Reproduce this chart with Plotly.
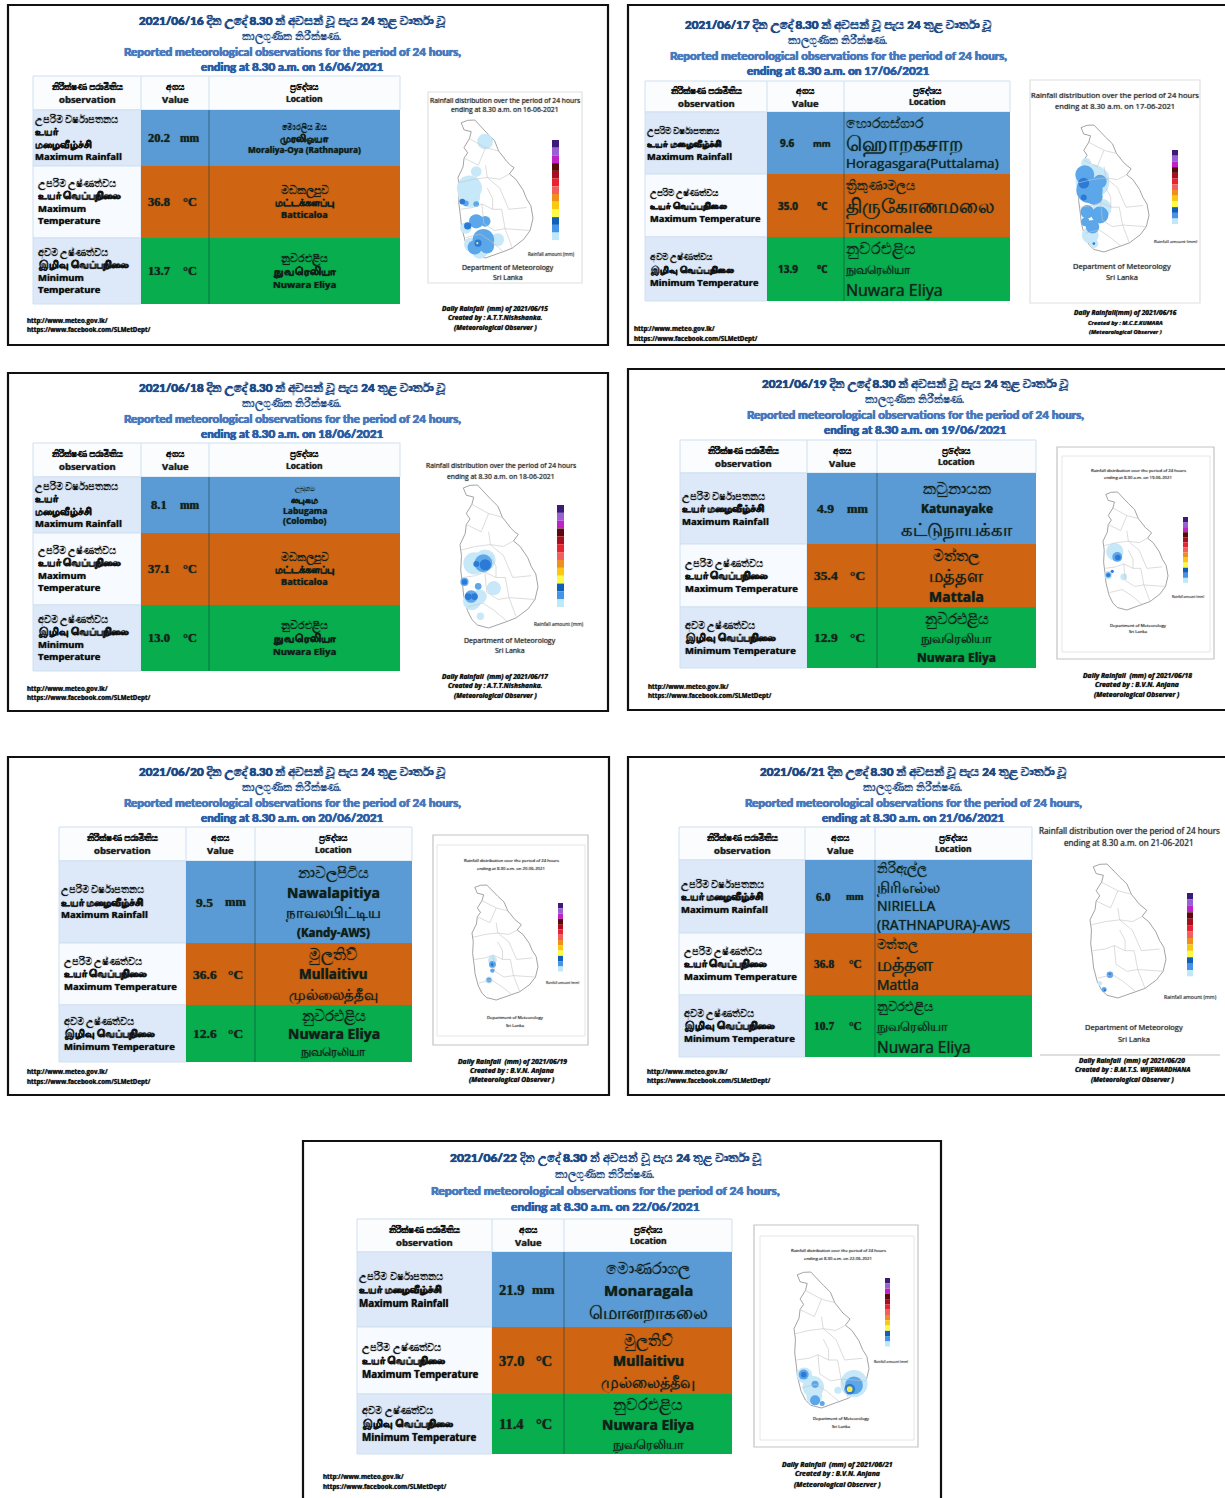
import plotly.graph_objects as go

# ---------- DATA ----------
report_dates = ["16/06/2021", "17/06/2021", "18/06/2021", "19/06/2021", "20/06/2021", "21/06/2021", "22/06/2021"]
title_dates = ["2021/06/16", "2021/06/17", "2021/06/18", "2021/06/19", "2021/06/20", "2021/06/21", "2021/06/22"]
map_dates = ["16-06-2021", "17-06-2021", "18-06-2021", "19-06-2021", "20-06-2021", "21-06-2021", "22-06-2021"]
rain_dates = ["2021/06/15", "2021/06/16", "2021/06/17", "2021/06/18", "2021/06/19", "2021/06/20", "2021/06/21"]
rain_prefix = ["Daily Rainfall  (mm) of ", "Daily Rainfall(mm) of ", "Daily Rainfall  (mm) of ", "Daily Rainfall  (mm) of ",
               "Daily Rainfall  (mm) of ", "Daily Rainfall  (mm) of ", "Daily Rainfall  (mm) of "]
observers = ["A.T.T.Nishshanka.", "M.C.E.KUMARA", "A.T.T.Nishshanka.", "B.V.N. Anjana", "B.V.N. Anjana",
             "B.M.T.S. WIJEWARDHANA", "B.V.N. Anjana"]
max_rain = ["20.2", "9.6", "8.1", "4.9", "9.5", "6.0", "21.9"]
max_temp = ["36.8", "35.0", "37.1", "35.4", "36.6", "36.8", "37.0"]
min_temp = ["13.7", "13.9", "13.0", "12.9", "12.6", "10.7", "11.4"]
units = ["mm", "°C", "°C"]

title_si_a = " දින උදේ <b>8.30</b> න් අවසන් වූ පැය <b>24</b> තුළ වාර්තා වූ"
title_si_b = "කාලගුණික නිරීක්ෂණ."
title_en_a = "Reported meteorological observations for the period of 24 hours,"
title_en_b = "ending at 8.30 a.m. on "
headers = [["නිරීක්ෂණ පරාමිතිය", "observation"], ["අගය", "Value"], ["ප්‍රදේශය", "Location"]]

labels_long = [["උපරිම වර්ෂාපතනය", "உயர்", "மழைவீழ்ச்சி", "Maximum Rainfall"],
               ["උපරිම උෂ්ණත්වය", "உயர் வெப்பநிலை", "Maximum", "Temperature"],
               ["අවම උෂ්ණත්වය", "இழிவு வெப்பநிலை", "Minimum", "Temperature"]]
labels_short = [["උපරිම වර්ෂාපතනය", "உயர் மழைவீழ்ச்சி", "Maximum Rainfall"],
                ["උපරිම උෂ්ණත්වය", "உயர் வெப்பநிலை", "Maximum Temperature"],
                ["අවම උෂ්ණත්වය", "இழிவு வெப்பநிலை", "Minimum Temperature"]]

nuwara_a = ["නුවරඑළිය", "நுவரெலியா", "Nuwara Eliya"]
nuwara_b = ["නුවරඑළිය", "Nuwara Eliya", "நுவரெலியா"]
batti = ["මඩකලපුව", "மட்டக்களப்பு", "Batticaloa"]
mullai = ["මුලතිව්", "Mullaitivu", "முல்லைத்தீவு"]
locations = [
    [["මොරලිය ඔය", "முரலிஓயா", "Moraliya-Oya (Rathnapura)"], batti, nuwara_a],
    [["හොරගස්ගාර", "ஹொறகசாற", "Horagasgara(Puttalama)"], ["ත්‍රිකුණාමලය", "திருகோணமலை", "Trincomalee"], nuwara_a],
    [["ලබුගම", "லபுகம", "Labugama", "(Colombo)"], batti, nuwara_a],
    [["කටුනායක", "Katunayake", "கட்டுநாயக்கா"], ["මත්තල", "மத்தள", "Mattala"], nuwara_a],
    [["නාවලපිටිය", "Nawalapitiya", "நாவலபிட்டிய", "(Kandy-AWS)"], mullai, nuwara_b],
    [["නිරිඇල්ල", "நிரிஎல்ல", "NIRIELLA", "(RATHNAPURA)-AWS"], ["මත්තල", "மத்தள", "Mattla"], nuwara_a],
    [["මොණරාගල", "Monaragala", "மொனறாகலை"], mullai, nuwara_b],
]

map_title_a = "Rainfall distribution over the period of 24 hours"
map_title_b = "ending at 8.30 a.m. on "
dept_lines = ["Department of Meteorology", "Sri Lanka"]
rain_caption = "Rainfall amount (mm)"
url_lines = ["http://www.meteo.gov.lk/", "https://www.facebook.com/SLMetDept/"]

# Sri Lanka coastline (degrees)
coast_lon = [79.87, 80.05, 80.25, 80.45, 80.60, 80.80, 80.92, 81.15, 81.25, 81.35, 81.22, 81.40, 81.60, 81.70, 81.82,
             81.88, 81.80, 81.62, 81.30, 81.05, 80.75, 80.55, 80.25, 80.10, 79.98, 79.88, 79.85, 79.80, 79.82, 79.78,
             79.92, 79.95, 80.05, 79.95, 80.10, 80.15, 79.95, 79.87]
coast_lat = [9.75, 9.82, 9.83, 9.60, 9.45, 9.25, 8.95, 8.65, 8.55, 8.48, 8.30, 8.15, 7.85, 7.60, 7.40,
             7.05, 6.70, 6.45, 6.20, 6.10, 5.98, 5.92, 6.00, 6.15, 6.40, 6.80, 7.10, 7.50, 7.90, 8.20,
             8.50, 8.75, 8.90, 9.05, 9.30, 9.50, 9.55, 9.75]
# district boundaries (degrees)
bound_lon = [[80.10, 80.55, 80.92], [79.95, 80.35, 80.55], [80.55, 80.60, 80.95, 81.22], [79.80, 80.20, 80.60, 80.95],
             [80.95, 81.20, 81.70], [79.85, 80.20, 80.45, 80.75, 81.00], [80.45, 80.50, 80.80, 81.10, 81.80],
             [80.00, 80.40, 80.70, 81.05], [81.00, 81.10, 81.30], [80.60, 80.75, 80.75]]
bound_lat = [[9.30, 9.05, 8.95], [8.75, 8.55, 9.05], [8.55, 8.20, 8.15, 8.30], [8.05, 8.15, 8.20, 7.90],
             [7.90, 7.30, 7.35], [7.30, 7.35, 7.45, 7.30, 7.30], [7.45, 6.90, 6.70, 6.75, 6.70],
             [6.50, 6.60, 6.40, 6.10], [7.30, 6.75, 6.20], [7.90, 7.60, 7.30]]

# rain patches per map: longitude, latitude, radius in degrees, rainfall class 1-4
rain_lon = [
    [80.54, 80.29, 80.10, 80.10, 80.00, 80.89, 80.39, 80.15, 80.00, 80.29, 80.29, 80.54, 80.49, 80.25, 80.59, 79.90, 80.05, 80.34, 80.32],
    [80.02, 80.21, 80.49, 80.49, 80.14, 80.25, 79.98, 80.12, 80.43, 80.26, 80.05, 80.43, 80.21, 80.00, 79.95, 79.95, 80.25],
    [80.17, 80.46, 80.69, 80.10, 80.31, 80.33, 80.41, 79.90, 80.27, 80.08, 80.46, 80.22, 79.90, 80.00, 80.17],
    [80.16, 80.45, 79.95, 80.24, 79.95, 80.26, 80.08, 79.95],
    [80.43, 80.32, 80.43, 80.43, 80.32, 80.44],
    [80.05, 80.33, 80.17, 80.33, 80.19],
    [80.07, 81.46, 80.32, 80.35, 81.01, 80.05, 80.37, 81.46, 80.37, 80.57, 80.05, 81.34, 81.34],
]
rain_lat = [
    [9.22, 8.37, 7.90, 7.66, 6.77, 6.44, 6.12, 6.30, 7.47, 7.45, 6.96, 6.96, 6.44, 6.22, 6.25, 7.52, 6.83, 6.34, 6.34],
    [8.66, 8.09, 8.25, 7.27, 6.44, 6.18, 8.30, 7.83, 8.09, 7.63, 7.16, 7.06, 6.70, 6.85, 8.04, 7.60, 6.18],
    [7.69, 7.78, 7.01, 6.65, 6.78, 6.24, 7.69, 7.18, 7.06, 6.78, 7.65, 7.67, 7.18, 6.78, 6.78],
    [7.85, 7.02, 7.08, 7.68, 7.08, 7.66, 7.20, 7.08],
    [7.28, 6.60, 7.13, 6.92, 6.60, 7.13],
    [6.35, 6.60, 6.17, 6.60, 6.15],
    [6.86, 6.62, 6.53, 6.25, 6.43, 6.88, 6.60, 6.57, 6.14, 6.05, 6.88, 6.46, 6.46],
]
rain_rad = [
    [.22, .15, .35, .30, .16, .18, .22, .20, .08, .08, .20, .15, .30, .20, .20, .08, .10, .10, .03],
    [.15, .50, .20, .28, .25, .13, .28, .39, .20, .25, .20, .25, .20, .13, .16, .09, .04],
    [.30, .28, .19, .24, .19, .10, .24, .11, .09, .17, .15, .08, .07, .09, .09],
    [.28, .11, .13, .16, .09, .09, .05, .06],
    [.14, .11, .11, .07, .08, .06],
    [.06, .09, .07, .04, .03],
    [.22, .38, .30, .22, .10, .14, .10, .25, .14, .07, .08, .15, .08],
]
rain_cls = [
    [1, 1, 1, 1, 1, 1, 1, 1, 2, 2, 2, 2, 2, 2, 2, 3, 3, 3, 4],
    [1, 1, 1, 1, 1, 1, 2, 2, 2, 2, 2, 2, 2, 2, 3, 3, 3],
    [1, 1, 1, 1, 1, 1, 2, 2, 2, 2, 3, 3, 3, 3, 3],
    [1, 1, 1, 2, 2, 3, 3, 3],
    [1, 1, 2, 2, 2, 3],
    [1, 2, 2, 3, 3],
    [1, 1, 1, 1, 1, 2, 2, 2, 2, 2, 3, 3, 4],
]
rain_colors = {1: "#c6e8f8", 2: "#5ca6ea", 3: "#2a7ad6", 4: "#f4ee3a"}
scale_colors = ["#3c1a78", "#9a5fd2", "#bf22c8", "#5a0a0a", "#a80f1e", "#ea2332", "#f2605e", "#ee8f1e",
                "#fbc810", "#fdfb45", "#1060b8", "#4394ea", "#bfe8f8", "#ffffff"]

# ---------- LAYOUT GEOMETRY (pixels of the page) ----------
G = [
    dict(box=(8, 5, 608, 345), tx=292, ty=[21, 36, 51, 66], fs=11.6,
         cols=(33, 141, 209, 400), rows=(76, 110, 166, 238, 304), labels=labels_long, lab_fs=9.5, lab_dy=12.5,
         loc_fs=[[7.7, 10, 8.3], [10.8, 10.3, 9.2], [10.8, 11, 9.6]], loc_dy=[11, 12, 13], loc_left=False, val_fs=12.5,
         card=(428, 92, 582, 283), inner=None, m=(458, 533, 120, 258), sc=(552, 559, 140, 248), cap=(527, 254),
         cap_fs=4.6, mt=(505, 100, 109), mt_fs=6.8, dp=(508, 267, 277), dp_fs=7, cr=(495, 308, 317, 327), cr_fs=6.6, url=(26, 320, 329)),
    dict(box=(628, 5, 1300, 345), tx=838, ty=[25, 40, 55, 70], fs=11.6,
         cols=(645, 767, 844, 1010), rows=(81, 112, 174, 237, 301), labels=labels_short, lab_fs=9.3, lab_dy=13,
         loc_fs=[[13.5, 20.5, 13.5], [13, 20, 15], [16, 12, 16]], loc_dy=[20, 21, 21], loc_left=True, val_fs=10,
         card=(1030, 80, 1200, 303), inner=None, m=(1078, 1149, 125, 252), sc=(1172, 1178, 150, 230), cap=(1153, 241),
         cap_fs=4.3, mt=(1115, 95, 106), mt_fs=7.6, dp=(1122, 266, 277), dp_fs=7.5, cr=(1125, 312, 323, 332), cr_fs=6.6, url=(633, 328, 338)),
    dict(box=(8, 373, 608, 711), tx=292, ty=[388, 403, 418, 433], fs=11.6,
         cols=(33, 141, 209, 400), rows=(443, 477, 533, 605, 671), labels=labels_long, lab_fs=9.5, lab_dy=12.5,
         loc_fs=[[7, 9, 8.5, 8.5], [10.8, 10.3, 9.2], [10.8, 11, 9.6]], loc_dy=[10.5, 12, 13], loc_left=False, val_fs=12.5,
         card=None, inner=None, m=(460, 538, 485, 628), sc=(557, 564, 505, 615), cap=(533, 624),
         cap_fs=4.9, mt=(501, 465, 476), mt_fs=6.8, dp=(510, 640, 650), dp_fs=7, cr=(495, 676, 685, 695), cr_fs=6.6, url=(26, 688, 697)),
    dict(box=(628, 369, 1300, 710), tx=915, ty=[384, 399, 414, 429], fs=11.6,
         cols=(680, 807, 877, 1036), rows=(440, 473, 544, 607, 668), labels=labels_short, lab_fs=9.5, lab_dy=12.5,
         loc_fs=[[16, 12, 18], [15, 18, 14], [15, 13, 12]], loc_dy=[21, 20.5, 19.5], loc_left=False, val_fs=13.5,
         card=(1057, 447, 1214, 659), inner=(1062, 456, 1210, 652), m=(1103, 1168, 492, 610), sc=(1183, 1188, 517, 588), cap=(1171, 597),
         cap_fs=3.2, mt=(1138, 470, 477), mt_fs=4.3, dp=(1138, 625, 631), dp_fs=4.3, cr=(1137, 675, 684, 694), cr_fs=6.8, url=(647, 686, 695)),
    dict(box=(8, 757, 609, 1095), tx=292, ty=[772, 787, 802, 817], fs=11.6,
         cols=(59, 186, 255, 412), rows=(827, 861, 943, 1005, 1062), labels=labels_short, lab_fs=9.5, lab_dy=12.5,
         loc_fs=[[15, 14, 14.5, 11.5], [15.5, 13.5, 15], [15, 14, 12]], loc_dy=[20, 20, 18], loc_left=False, val_fs=13.5,
         card=(433, 835, 588, 1045), inner=(437, 845, 585, 1036), m=(472, 538, 885, 1000), sc=(558, 563, 903, 977), cap=(545, 982),
         cap_fs=3.3, mt=(511, 860, 868), mt_fs=4.3, dp=(515, 1017, 1025), dp_fs=4.3, cr=(512, 1061, 1070, 1079), cr_fs=6.8, url=(26, 1071, 1081)),
    dict(box=(628, 757, 1300, 1095), tx=913, ty=[772, 787, 802, 817], fs=11.6,
         cols=(679, 805, 875, 1032), rows=(827, 860, 933, 995, 1057), labels=labels_short, lab_fs=9.5, lab_dy=12.5,
         loc_fs=[[12.5, 16, 14, 14], [13, 19, 14], [13, 13, 15.5]], loc_dy=[18.5, 20.5, 20.5], loc_left=True, val_fs=11.5,
         card=None, inner=None, m=(1090, 1166, 864, 998), sc=(1187, 1193, 893, 983), cap=(1163, 997),
         cap_fs=5.2, mt=(1129, 830, 842), mt_fs=8.2, dp=(1134, 1027, 1039), dp_fs=7.5, cr=(1132, 1060, 1069, 1079), cr_fs=6.6, url=(646, 1071, 1080)),
    dict(box=(303, 1141, 941, 1600), tx=605, ty=[1158, 1174, 1190, 1206], fs=12,
         cols=(357, 492, 564, 732), rows=(1219, 1252, 1327, 1394, 1454), labels=labels_short, lab_fs=9.8, lab_dy=13.5,
         loc_fs=[[16, 15, 18], [16, 14, 16], [16, 14, 12.5]], loc_dy=[22, 21, 20], loc_left=False, val_fs=14.5,
         card=(754, 1225, 918, 1447), inner=(760, 1236, 914, 1440), m=(794, 869, 1272, 1408), sc=(885, 890, 1278, 1352), cap=(873, 1361),
         cap_fs=3.4, mt=(838, 1250, 1258), mt_fs=4.3, dp=(841, 1418, 1426), dp_fs=4.3, cr=(837, 1464, 1473, 1484), cr_fs=6.9, url=(322, 1476, 1486)),
]

BLUE, ORANGE, GREEN = "#5b9bd5", "#cf6413", "#08ae4e"
NAVY, ROYAL, MID = "#1f4a86", "#4a78bd", "#2c5da6"
SANS = "Open Sans, Noto Sans, sans-serif"
LATO = "Lato, Open Sans, sans-serif"
SERIF = "Liberation Serif, serif"

shapes, notes = [], []
fig = go.Figure()


def rect(x0, y0, x1, y1, fill=None, line=None, w=1, layer="below"):
    shapes.append(dict(type="rect", xref="x", yref="y", x0=x0, y0=y0, x1=x1, y1=y1, layer=layer,
                       fillcolor=fill or "rgba(0,0,0,0)",
                       line=dict(color=line or "rgba(0,0,0,0)", width=w if line else 0)))


def has_block(s, lo, hi):
    return any(lo <= ord(c) <= hi for c in s)


def txt(x, y, s, size, color="#111111", bold=False, italic=False, family=SANS, anchor="center", heavy=False):
    tamil = has_block(s, 0x0B80, 0x0BFF)
    sinhala = has_block(s, 0x0D80, 0x0DFF)
    if heavy or (tamil and size <= 11):
        shadow = f"0.3px 0 0 {color}, -0.3px 0 0 {color}, 0 0 1px {color}"
    else:
        shadow = f"0 0 1px {color}"
    if sinhala:
        bold = False
    if tamil and size > 11:
        bold = False
    if bold:
        s = "<b>" + s + "</b>"
    if italic:
        s = "<i>" + s + "</i>"
    notes.append(dict(x=x, y=y, xref="x", yref="y", text=s, showarrow=False, xanchor=anchor, yanchor="middle",
                      borderpad=0, font=dict(size=size, color=color, family=family, shadow=shadow)))


for i, g in enumerate(G):
    # panel frame
    rect(*g["box"], fill="#ffffff", line="#111111", w=2.2)

    # titles
    ty, fs = g["ty"], g["fs"]
    txt(g["tx"], ty[0], "<b>" + title_dates[i] + "</b>" + title_si_a, fs, NAVY, family=LATO, heavy=True)
    txt(g["tx"] - 1, ty[1], title_si_b, fs - 1, NAVY, family=LATO)
    txt(g["tx"], ty[2], title_en_a, fs + .1, ROYAL, bold=True, family=LATO, heavy=True)
    txt(g["tx"], ty[3], title_en_b + report_dates[i], fs + .1, MID, bold=True, family=LATO, heavy=True)

    # table
    c0, c1, c2, c3 = g["cols"]
    r0, r1, r2, r3, r4 = g["rows"]
    rect(c0, r0, c3, r1, fill="#fafcfe", line="#cfe0f1")
    rect(c0, r1, c1, r2, fill="#dde9f9", line="#cfe0f1")
    rect(c0, r2, c1, r3, fill="#f7faff", line="#cfe0f1")
    rect(c0, r3, c1, r4, fill="#dde9f9", line="#cfe0f1")
    shapes.append(dict(type="line", xref="x", yref="y", x0=c1, x1=c1, y0=r0, y1=r1, line=dict(color="#cfe0f1", width=1), layer="below"))
    shapes.append(dict(type="line", xref="x", yref="y", x0=c2, x1=c2, y0=r0, y1=r1, line=dict(color="#cfe0f1", width=1), layer="below"))
    for (a, b, colr) in ((r1, r2, BLUE), (r2, r3, ORANGE), (r3, r4, GREEN)):
        rect(c1, a, c3, b, fill=colr)
        shapes.append(dict(type="line", xref="x", yref="y", x0=c2, x1=c2, y0=a, y1=b,
                           line=dict(color="rgba(20,60,60,0.55)", width=1), layer="below"))

    # header text
    hy = (r0 + r1) / 2
    cx = ((c0 + c1) / 2, (c1 + c2) / 2, (c2 + c3) / 2)
    for k in range(3):
        txt(cx[k], hy - 6.5, headers[k][0], 9, heavy=True)
        txt(cx[k], hy + 6.5 if k < 2 else hy + 5, headers[k][1], 9.5 if k < 2 else 8.5, "#222222", bold=True)

    # rows
    vals = (max_rain[i], max_temp[i], min_temp[i])
    bounds = ((r1, r2), (r2, r3), (r3, r4))
    w = c2 - c1
    for k, (a, b) in enumerate(bounds):
        mid = (a + b) / 2
        lab = g["labels"][k]
        for j, s in enumerate(lab):
            txt(c0 + (1 if k == 0 else 4), mid + (j - (len(lab) - 1) / 2) * g["lab_dy"], s, g["lab_fs"],
                bold=True, anchor="left")
        vf = SERIF if g["val_fs"] > 10 else SANS
        txt(c1 + w * .27, mid, vals[k], g["val_fs"], "#14241c", bold=True, family=vf)
        txt(c1 + w * .72, mid, units[k], g["val_fs"] - (1 if k == 0 else 0), "#14241c", bold=True, family=vf)
        loc = locations[i][k]
        for j, s in enumerate(loc):
            yy = mid + (j - (len(loc) - 1) / 2) * g["loc_dy"][k]
            fsz = g["loc_fs"][k][j]
            if g["loc_left"]:
                txt(c2 + 1, yy, s, fsz, "#10261e", anchor="left")
            else:
                txt((c2 + c3) / 2, yy, s, fsz, "#10201a", bold=True)

    # map card
    if g["card"]:
        rect(*g["card"], fill="#ffffff", line="#e0e0e0" if i < 2 else "#c4c4c4", w=1.2)
    if g["inner"]:
        rect(*g["inner"], fill="#ffffff", line="#e6e6e6", w=1)

    # map
    mx0, mx1, my0, my1 = g["m"]
    lon0, lon1, lat0, lat1 = 79.78, 81.88, 9.83, 5.92
    fx = lambda v: mx0 + (v - lon0) / (lon1 - lon0) * (mx1 - mx0)
    fy = lambda v: my0 + (v - lat0) / (lat1 - lat0) * (my1 - my0)
    fig.add_trace(go.Scatter(x=[fx(v) for v in coast_lon], y=[fy(v) for v in coast_lat], mode="lines", fill="toself",
                             fillcolor="#ffffff", line=dict(color="#8b8b8b", width=.8), hoverinfo="skip"))
    order = sorted(range(len(rain_cls[i])), key=lambda n: rain_cls[i][n])
    pxdeg = (mx1 - mx0) / (lon1 - lon0)
    fig.add_trace(go.Scatter(x=[fx(rain_lon[i][n]) for n in order], y=[fy(rain_lat[i][n]) for n in order], mode="markers",
                             marker=dict(size=[max(2, 2 * rain_rad[i][n] * pxdeg) for n in order],
                                         color=[rain_colors[rain_cls[i][n]] for n in order], line=dict(width=0), opacity=1),
                             hoverinfo="skip"))
    for blon, blat in zip(bound_lon, bound_lat):
        fig.add_trace(go.Scatter(x=[fx(v) for v in blon], y=[fy(v) for v in blat], mode="lines",
                                 line=dict(color="#c4c4c4", width=.6), hoverinfo="skip"))

    # colour scale
    sx0, sx1, sy0, sy1 = g["sc"]
    step = (sy1 - sy0) / len(scale_colors)
    for n, colr in enumerate(scale_colors):
        rect(sx0, sy0 + n * step, sx1, sy0 + (n + 1) * step, fill=colr, layer="above")

    # map texts
    txt(g["cap"][0], g["cap"][1], rain_caption, g["cap_fs"], "#444444", anchor="left")
    txt(g["mt"][0], g["mt"][1], map_title_a, g["mt_fs"], "#333333")
    txt(g["mt"][0], g["mt"][2], map_title_b + map_dates[i], g["mt_fs"], "#333333")
    txt(g["dp"][0], g["dp"][1], dept_lines[0], g["dp_fs"], "#333333")
    txt(g["dp"][0], g["dp"][2], dept_lines[1], g["dp_fs"], "#333333")

    # credit
    cr = g["cr"]
    txt(cr[0], cr[1], rain_prefix[i] + rain_dates[i], g["cr_fs"], "#111111", bold=True, italic=True)
    txt(cr[0], cr[2], "Created by : " + observers[i], g["cr_fs"] - (.8 if i == 1 else 0), "#111111", bold=True, italic=True)
    txt(cr[0], cr[3], "(Meteorological Observer )", g["cr_fs"] - (.8 if i == 1 else 0), "#111111", bold=True, italic=True)

    # links
    txt(g["url"][0], g["url"][1], url_lines[0], 6.2, "#111111", bold=True, anchor="left")
    txt(g["url"][0], g["url"][2], url_lines[1], 6.2, "#111111", bold=True, anchor="left")

# separator under the sixth map card
shapes.append(dict(type="line", xref="x", yref="y", x0=1040, x1=1220, y0=1055, y1=1055,
                   line=dict(color="#bdbdbd", width=1), layer="below"))

fig.update_layout(width=1225, height=1498, margin=dict(l=0, r=0, t=0, b=0), showlegend=False,
                  paper_bgcolor="#ffffff", plot_bgcolor="#ffffff", shapes=shapes, annotations=notes,
                  xaxis=dict(range=[0, 1225], visible=False, fixedrange=True),
                  yaxis=dict(range=[1498, 0], visible=False, fixedrange=True))
fig.write_html("out.html", post_script="document.body.style.margin='0';document.documentElement.style.overflow='hidden';",
               config=dict(displayModeBar=False))
